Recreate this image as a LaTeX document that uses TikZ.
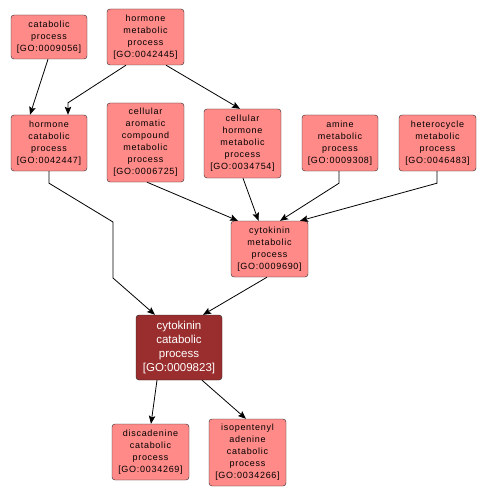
\documentclass[tikz,border=0pt]{standalone}
\usepackage{fontspec}
\setmainfont{Liberation Sans}
\newfontfamily\gofont[LetterSpace=8]{Liberation Sans}
\usetikzlibrary{arrows.meta,calc}
\definecolor{termfill}{RGB}{255,138,136}
\definecolor{hitfill}{RGB}{154,45,45}

\begin{document}
\begin{tikzpicture}[
  x=1pt, y=-1pt,
  term/.style={draw=black!85, rounded corners=3pt, fill=termfill, align=center,
               inner sep=0pt, font=\gofont\fontsize{9}{12}\selectfont},
  hit/.style={draw=black!85, rounded corners=3pt, fill=hitfill, align=center,
              inner sep=0pt, text=white, font=\fontsize{11.5}{14}\selectfont},
  arr/.style={-{Stealth[length=8pt, width=6.5pt, inset=1.5pt]}, line width=0.8pt},
]
\useasboundingbox (0,0) rectangle (486,497);

%% ---------- top rows ----------
\node[term, minimum width=76pt, minimum height=44pt] (cat) at (49,37)
  {catabolic\\ process\\ {[GO:0009056]}};
\node[term, minimum width=77pt, minimum height=56pt] (hmp) at (145.5,37)
  {hormone\\ metabolic\\ process\\ {[GO:0042445]}};
\node[term, minimum width=76pt, minimum height=56pt] (hcp) at (49,143)
  {hormone\\ catabolic\\ process\\ {[GO:0042447]}};
\node[term, minimum width=77pt, minimum height=79pt] (cac) at (145.5,142.5)
  {cellular\\ aromatic\\ compound\\ metabolic\\ process\\ {[GO:0006725]}};
\node[term, minimum width=77pt, minimum height=69pt] (chm) at (242.5,143.5)
  {cellular\\ hormone\\ metabolic\\ process\\ {[GO:0034754]}};
\node[term, minimum width=76pt, minimum height=56pt] (amp) at (340,143)
  {amine\\ metabolic\\ process\\ {[GO:0009308]}};
\node[term, minimum width=77pt, minimum height=56pt] (het) at (437.5,143)
  {heterocycle\\ metabolic\\ process\\ {[GO:0046483]}};

%% ---------- middle ----------
\node[term, minimum width=77pt, minimum height=56pt] (ckm) at (269.5,249)
  {cytokinin\\ metabolic\\ process\\ {[GO:0009690]}};
\node[hit, minimum width=86pt, minimum height=65pt] (ckc) at (179,347.5)
  {cytokinin\\ catabolic\\ process\\ {[GO:0009823]}};

%% ---------- bottom ----------
\node[term, minimum width=77pt, minimum height=56pt] (dis) at (150.5,452)
  {discadenine\\ catabolic\\ process\\ {[GO:0034269]}};
\node[term, minimum width=77pt, minimum height=67pt] (iso) at (247.5,452.5)
  {isopentenyl\\ adenine\\ catabolic\\ process\\ {[GO:0034266]}};

\coordinate (bendA) at (113,222);
\coordinate (bendB) at (113,278);

%% ---------- edges ----------
\draw[arr] ([xshift=-1pt]cat.south) -- ([xshift=-19pt]hcp.north);
\draw[arr] ([xshift=-19.5pt]hmp.south) -- ([xshift=19pt,yshift=12pt]hcp.north) -- ([xshift=19pt]hcp.north);
\draw[arr] ([xshift=20.5pt]hmp.south) -- ([xshift=-2.5pt]chm.north);
\draw[arr] (hcp.south) -- ++(0,12) -- (bendA) -- (bendB) -- ([xshift=-24pt]ckc.north);
\draw[arr] ([xshift=1.5pt]cac.south) -- ([xshift=-31.5pt]ckm.north);
\draw[arr] ([xshift=0.5pt]chm.south) -- ([xshift=-11pt]ckm.north);
\draw[arr] ([xshift=-1pt]amp.south) -- ++(0,12) -- ([xshift=10.5pt]ckm.north);
\draw[arr] ([xshift=-0.5pt]het.south) -- ++(0,12) -- ([xshift=30.5pt]ckm.north);
\draw[arr] ([xshift=-2.5pt]ckm.south) -- ([xshift=24pt]ckc.north);
\draw[arr] ([xshift=-22pt]ckc.south) -- ([xshift=0.5pt]dis.north);
\draw[arr] ([xshift=23pt]ckc.south) -- ([xshift=-1.5pt]iso.north);

\end{tikzpicture}
\end{document}
